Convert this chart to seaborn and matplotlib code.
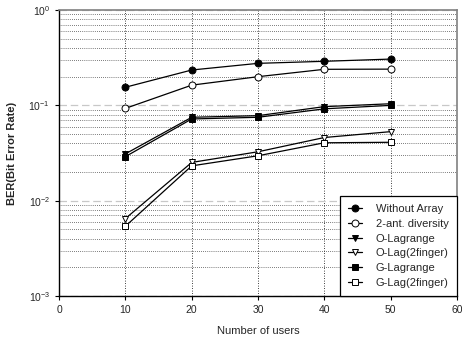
import matplotlib
matplotlib.use("Agg")
import matplotlib.pyplot as plt
import matplotlib.ticker as mticker
import numpy as np
import pandas as pd
import seaborn as sns

users = [10, 20, 30, 40, 50]

without_array = [0.155, 0.235, 0.276, 0.290, 0.306]
two_ant = [0.093, 0.163, 0.200, 0.239, 0.240]
o_lagrange = [0.031, 0.075, 0.078, 0.097, 0.104]
o_lag2f = [0.0065, 0.0252, 0.0326, 0.046, 0.053]
g_lagrange = [0.029, 0.072, 0.075, 0.092, 0.100]
g_lag2f = [0.0054, 0.0232, 0.0296, 0.0405, 0.041]

series = {
    "Without Array": without_array,
    "2-ant. diversity": two_ant,
    "O-Lagrange": o_lagrange,
    "O-Lag(2finger)": o_lag2f,
    "G-Lagrange": g_lagrange,
    "G-Lag(2finger)": g_lag2f,
}
styles = {
    "Without Array": ("o", "black"),
    "2-ant. diversity": ("o", "white"),
    "O-Lagrange": ("v", "black"),
    "O-Lag(2finger)": ("v", "white"),
    "G-Lagrange": ("s", "black"),
    "G-Lag(2finger)": ("s", "white"),
}

sns.set_style("white")
plt.rcParams['font.family'] = ['Liberation Sans', 'DejaVu Sans']

fig = plt.figure(figsize=(4.62, 3.47), dpi=100)
ax = fig.add_axes([0.128, 0.147, 0.861, 0.824])

for name, vals in series.items():
    m, fc = styles[name]
    df = pd.DataFrame({"users": users, "ber": vals})
    sns.lineplot(data=df, x="users", y="ber", ax=ax, color="black", lw=0.9,
                 marker=m, markersize=5, markerfacecolor=fc,
                 markeredgecolor="black", markeredgewidth=0.7, label=name)

ax.set_yscale("log")
ax.set_ylim(1e-3, 1)
ax.set_xlim(0, 60)
ax.set_xticks([0, 10, 20, 30, 40, 50, 60])
ax.yaxis.set_major_locator(mticker.LogLocator(base=10, numticks=10))
ax.yaxis.set_minor_locator(mticker.LogLocator(base=10, subs=np.arange(2, 10), numticks=10))
ax.yaxis.set_minor_formatter(mticker.NullFormatter())
ax.yaxis.set_major_formatter(mticker.LogFormatterSciNotation())

ax.grid(True, which="major", axis="y", ls=(0, (6, 3)), color="#c8c8c8", lw=0.9)
ax.grid(True, which="minor", axis="y", ls=(0, (1, 2)), color="black", lw=0.5)
ax.grid(True, which="major", axis="x", ls=(0, (1, 2)), color="black", lw=0.6)
ax.set_axisbelow(True)

ax.tick_params(axis="both", which="major", labelsize=7.5, length=3, direction="out",
               left=True, bottom=True, color="black")
ax.tick_params(axis="y", which="minor", left=False)
for s in ["left", "bottom"]:
    ax.spines[s].set_color("black")
    ax.spines[s].set_linewidth(1.0)
for s in ["top", "right"]:
    ax.spines[s].set_color("#808080")
    ax.spines[s].set_linewidth(1.2)

ax.set_xlabel("Number of users", fontsize=8, labelpad=8)
ax.set_ylabel("BER(Bit Error Rate)", fontsize=8, fontweight="bold", labelpad=8)

leg = ax.legend(loc="lower right", fontsize=8, frameon=True, fancybox=False,
                borderaxespad=0, handlelength=1.3, labelspacing=0.42,
                handletextpad=1.2, borderpad=0.75)
leg.get_frame().set_edgecolor("black")
leg.get_frame().set_linewidth(0.9)
leg.get_frame().set_alpha(1)

fig.savefig("out.png", dpi=100)
